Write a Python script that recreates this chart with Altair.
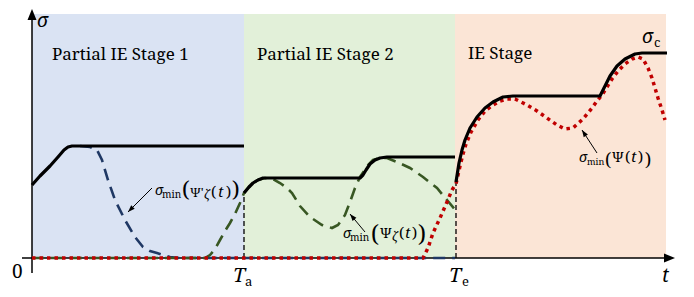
import altair as alt
import pandas as pd

# ---- coordinate frame (t horizontal, s = sigma vertical) ----
X_DOMAIN = [-24, 654]
Y_DOMAIN = [-31, 250]
SERIF = "Noto Serif, DejaVu Serif, serif"

# ---- stage backgrounds ----
stage_names = ["Partial IE Stage 1", "Partial IE Stage 2", "IE Stage"]
stage_label_t = [20, 225, 436]
stage_label_s = [198, 198, 199]
stage_start = [0, 212, 423]
stage_end = [212, 423, 634]
stage_colors = ["#dae3f3", "#e2f0d9", "#fbe5d6"]
stage_top = 244

# ---- sigma_c (black, three segments) ----
c1_t = [0, 8, 18, 26, 32, 36, 40, 212]
c1_s = [73, 82, 92, 101, 108, 111, 112, 112]
c2_t = [212, 217, 221, 226, 231, 328, 331, 334, 338, 343, 348, 355, 423]
c2_s = [65, 71, 75, 78, 80, 80, 83, 88, 94, 98, 100, 101, 101]
c3_t = [424, 427, 430, 433, 438, 445, 453, 461, 471, 481, 568, 573, 578, 585, 593, 603, 610, 635]
c3_s = [76, 95, 108, 118, 130, 141, 150, 156, 161, 162, 162, 172, 182, 192, 199, 204, 205, 205]

# ---- sigma_min(Psi'_zeta) (blue dashed) ----
b_t = [48, 58, 65, 70, 76, 83, 93, 103, 111, 118, 125, 138, 148, 423]
b_s = [112, 111, 108, 98, 78, 58, 38, 21, 11, 7, 5, 1, 0, 0]

# ---- sigma_min(Psi_zeta) (green dashed) ----
g_t = [0, 173, 178, 183, 188, 193, 198, 203, 208, 212, 217, 221, 226, 233, 241, 248, 255, 260, 268, 278,
       290, 300, 306, 313, 318, 323, 328, 332, 336, 341, 348, 355, 365, 378, 391, 405, 415, 425]
g_s = [0, 0, 3, 9, 18, 27, 35, 44, 55, 65, 71, 75, 78, 80, 79, 75, 70, 65, 52, 41,
       33, 30, 33, 43, 56, 70, 81, 87, 93, 98, 100, 100, 96, 90, 81, 70, 58, 46]

# ---- sigma_min(Psi) (red dotted) ----
r_t = [0, 391, 396, 401, 408, 415, 420, 424, 428, 431, 434, 439, 446, 453, 461, 468, 475, 483, 495,
       505, 515, 525, 533, 541, 551, 560, 565, 570, 575, 580, 586, 593, 600, 606, 611, 616, 620, 623, 626, 630, 633]
r_s = [0, 0, 10, 25, 40, 56, 68, 74, 92, 104, 114, 126, 138, 147, 153, 157, 159, 159, 153,
       147, 140, 133, 129, 130, 139, 150, 157, 163, 171, 179, 187, 194, 199, 201, 199, 190, 180, 170, 160, 148, 138]

# ---- guides ----
vline_t = [212, 424]
vline_top = [65, 76]

# annotation arrows: tail -> tip
arr_t1 = [120, 333, 565]
arr_s1 = [70, 26, 105]
arr_t2 = [96, 318, 550]
arr_s2 = [46, 44, 128]
arr_angle = [225, 320, 327]

# ---- text (left x, baseline y, size) ----
roman_txt = ["0", "a", "e", "c",
             "min", "(", "Ψ'", "(", ")", ")",
             "min", "(", "Ψ", "(", ")", ")",
             "min", "(", "Ψ", "(", ")", ")"]
roman_t = [-20, 213, 430, 622,
           130, 150, 158, 179, 194, 200,
           318, 339, 348, 367, 380, 386,
           555, 573, 580, 593, 606, 613]
roman_s = [-20, -28, -28, 211,
           60, 61, 61, 61, 61, 61,
           17, 16, 20, 20, 20, 16,
           93, 92, 96, 96, 96, 92]
roman_fs = [19, 13, 13, 13,
            10, 22, 13, 15, 15, 22,
            10, 23, 14, 15, 15, 23,
            9, 18, 14, 15, 15, 18]

italic_txt = ["σ", "T", "T", "t", "σ",
              "σ", "ζ", "t",
              "σ", "ζ", "t",
              "σ", "t"]
italic_t = [5, 201, 417, 630, 610,
            123, 172, 186,
            311, 360, 373,
            547, 599]
italic_s = [231, -24, -24, -24, 215,
            63, 59, 61,
            20, 17, 20,
            96, 96]
italic_fs = [19, 20, 20, 19, 19,
             14, 13, 15,
             14, 13, 15,
             14, 15]

xs = alt.Scale(domain=X_DOMAIN, nice=False, zero=False)
ys = alt.Scale(domain=Y_DOMAIN, nice=False, zero=False)


def X(f):
    return alt.X(f, type="quantitative", scale=xs, axis=None)


def Y(f):
    return alt.Y(f, type="quantitative", scale=ys, axis=None)


def line_df(ts, ss, seg=0):
    return pd.DataFrame({"t": ts, "s": ss, "i": list(range(len(ts))), "seg": [seg] * len(ts)})


bg = alt.Chart(pd.DataFrame({"a": stage_start, "b": stage_end, "c": stage_colors,
                             "lo": [0] * 3, "hi": [stage_top] * 3})).mark_rect(strokeWidth=0).encode(
    x=X("a"), x2="b", y=Y("lo"), y2="hi", color=alt.Color("c:N", scale=None))

axes = alt.Chart(pd.DataFrame({"x1": [0, -10], "y1": [-15, 0], "x2": [0, 640], "y2": [246, 0]})).mark_rule(
    color="black", strokeWidth=1.5).encode(x=X("x1"), y=Y("y1"), x2="x2", y2="y2")

axis_heads = alt.Chart(pd.DataFrame({"t": [0, 643], "s": [249, 0], "a": [0, 90]})).mark_point(
    shape="M0,0L1.8,4.4L-1.8,4.4Z", size=25, filled=True, color="black", opacity=1, strokeWidth=0).encode(
    x=X("t"), y=Y("s"), angle=alt.Angle("a:Q", scale=None))

vlines = alt.Chart(pd.DataFrame({"t": vline_t, "lo": [0, 0], "hi": vline_top})).mark_rule(
    color="black", strokeWidth=1.3, strokeDash=[5, 3]).encode(x=X("t"), y=Y("lo"), y2="hi")

blue = alt.Chart(line_df(b_t, b_s)).mark_line(color="#1f3864", strokeWidth=2.6, strokeDash=[12, 7]).encode(
    x=X("t"), y=Y("s"), order="i:Q")
green = alt.Chart(line_df(g_t, g_s)).mark_line(color="#385723", strokeWidth=2.6, strokeDash=[12, 7]).encode(
    x=X("t"), y=Y("s"), order="i:Q")
red = alt.Chart(line_df(r_t, r_s)).mark_line(color="#c00000", strokeWidth=3.5, strokeDash=[3.5, 4]).encode(
    x=X("t"), y=Y("s"), order="i:Q")

black_df = pd.concat([line_df(c1_t, c1_s, 1), line_df(c2_t, c2_s, 2), line_df(c3_t, c3_s, 3)])
black = alt.Chart(black_df).mark_line(color="black", strokeWidth=3.2, strokeJoin="round").encode(
    x=X("t"), y=Y("s"), detail="seg:N", order="i:Q")

arr_df = pd.DataFrame({"t1": arr_t1, "s1": arr_s1, "t2": arr_t2, "s2": arr_s2, "a": arr_angle})
arr_lines = alt.Chart(arr_df).mark_rule(color="black", strokeWidth=1).encode(
    x=X("t1"), y=Y("s1"), x2="t2", y2="s2")
arr_heads = alt.Chart(arr_df).mark_point(
    shape="M0,0L1,2.8L-1,2.8Z", size=25, filled=True, color="black", opacity=1, strokeWidth=0).encode(
    x=X("t2"), y=Y("s2"), angle=alt.Angle("a:Q", scale=None))

titles = alt.Chart(pd.DataFrame({"t": stage_label_t, "s": stage_label_s, "txt": stage_names})).mark_text(
    align="left", baseline="alphabetic", font=SERIF, fontSize=17, color="black").encode(
    x=X("t"), y=Y("s"), text="txt:N")

roman = alt.Chart(pd.DataFrame({"t": roman_t, "s": roman_s, "txt": roman_txt, "fs": roman_fs})).mark_text(
    align="left", baseline="alphabetic", font=SERIF, color="black").encode(
    x=X("t"), y=Y("s"), text="txt:N", size=alt.Size("fs:Q", scale=None))
italic = alt.Chart(pd.DataFrame({"t": italic_t, "s": italic_s, "txt": italic_txt, "fs": italic_fs})).mark_text(
    align="left", baseline="alphabetic", font=SERIF, fontStyle="italic", color="black").encode(
    x=X("t"), y=Y("s"), text="txt:N", size=alt.Size("fs:Q", scale=None))

chart = alt.layer(bg, axes, vlines, blue, green, red, black, axis_heads, arr_lines, arr_heads,
                  titles, roman, italic).properties(
    width=678, height=281, padding=0,
    autosize=alt.AutoSizeParams(type="none"),
    background="white",
).configure_view(stroke=None)

chart.save("out.html", embed_options={"renderer": "svg", "actions": False})
